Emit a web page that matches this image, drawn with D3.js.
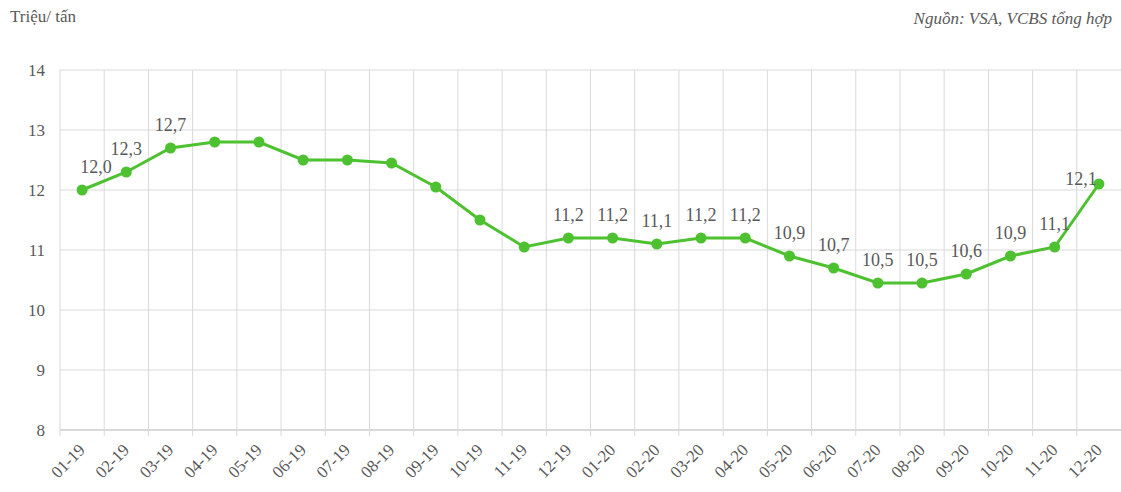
<!DOCTYPE html>
<html lang="vi">
<head>
    <meta charset="UTF-8">
    <title>Giá đường</title>
    <script src="https://d3js.org/d3.v7.min.js"></script>
    <style>
        body { margin: 0; background: #fff; }
    </style>
</head>
<body>
    <div id="chart"></div>
    <script>
        // Data
        const months = ["01-19","02-19","03-19","04-19","05-19","06-19","07-19","08-19","09-19","10-19","11-19","12-19",
                        "01-20","02-20","03-20","04-20","05-20","06-20","07-20","08-20","09-20","10-20","11-20","12-20"];
        const prices = [12.0, 12.3, 12.7, 12.8, 12.8, 12.5, 12.5, 12.45, 12.05, 11.5, 11.05, 11.2,
                        11.2, 11.1, 11.2, 11.2, 10.9, 10.7, 10.45, 10.45, 10.6, 10.9, 11.05, 12.1];
        const labels = ["12,0","12,3","12,7","","","","","","","","","11,2",
                        "11,2","11,1","11,2","11,2","10,9","10,7","10,5","10,5","10,6","10,9","11,1","12,1"];
        const yTicks = [8, 9, 10, 11, 12, 13, 14];

        const width = 1121, height = 492;
        const mLeft = 60, mRight = 1121, mTop = 70, mBottom = 430;

        const svg = d3.select("#chart").append("svg")
            .attr("width", width)
            .attr("height", height)
            .attr("font-family", "'Liberation Serif', 'Times New Roman', serif");

        const x = d3.scaleBand().domain(months).range([mLeft, mRight]);
        const y = d3.scaleLinear().domain([8, 14]).range([mBottom, mTop]);
        const cx = i => x(months[i]) + x.bandwidth() / 2;
        const textColor = "#595959";

        // horizontal gridlines
        svg.append("g")
            .selectAll("line")
            .data(yTicks)
            .join("line")
            .attr("x1", mLeft).attr("x2", mRight)
            .attr("y1", d => y(d)).attr("y2", d => y(d))
            .attr("stroke", "#d9d9d9")
            .attr("stroke-width", d => d === 8 ? 2 : 1);

        // vertical gridlines + ticks under axis
        svg.append("g")
            .selectAll("line")
            .data(months)
            .join("line")
            .attr("x1", d => x(d)).attr("x2", d => x(d))
            .attr("y1", mTop).attr("y2", mBottom + 6)
            .attr("stroke", "#d9d9d9")
            .attr("stroke-width", 1);

        // y labels
        svg.append("g")
            .selectAll("text")
            .data(yTicks)
            .join("text")
            .attr("x", 45)
            .attr("y", d => y(d) + 6)
            .attr("text-anchor", "end")
            .attr("font-size", "17px")
            .attr("fill", textColor)
            .text(d => d);

        // x labels rotated
        svg.append("g")
            .selectAll("text")
            .data(months)
            .join("text")
            .attr("transform", (d, i) => `translate(${cx(i) + 4},${mBottom + 21}) rotate(-45)`)
            .attr("text-anchor", "end")
            .attr("font-size", "17px")
            .attr("fill", textColor)
            .text(d => d);

        // line
        const line = d3.line()
            .x((d, i) => cx(i))
            .y(d => y(d));

        svg.append("path")
            .datum(prices)
            .attr("fill", "none")
            .attr("stroke", "#4dc130")
            .attr("stroke-width", 3)
            .attr("d", line);

        svg.append("g")
            .selectAll("circle")
            .data(prices)
            .join("circle")
            .attr("cx", (d, i) => cx(i))
            .attr("cy", d => y(d))
            .attr("r", 5.5)
            .attr("fill", "#4dc130");

        // value labels
        svg.append("g")
            .selectAll("text")
            .data(prices)
            .join("text")
            .attr("x", (d, i) => cx(i) + (i === 0 ? 14 : i === prices.length - 1 ? -18 : 0))
            .attr("y", (d, i) => y(d) - (i === prices.length - 1 ? -1 : 17))
            .attr("text-anchor", "middle")
            .attr("font-size", "18px")
            .attr("fill", textColor)
            .text((d, i) => labels[i]);

        // titles
        svg.append("text")
            .attr("x", 10).attr("y", 22)
            .attr("font-size", "17px")
            .attr("fill", textColor)
            .text("Triệu/ tấn");

        svg.append("text")
            .attr("x", 1112).attr("y", 24)
            .attr("text-anchor", "end")
            .attr("font-size", "17px")
            .attr("font-style", "italic")
            .attr("fill", textColor)
            .text("Nguồn: VSA, VCBS tổng hợp");
    </script>
</body>
</html>
